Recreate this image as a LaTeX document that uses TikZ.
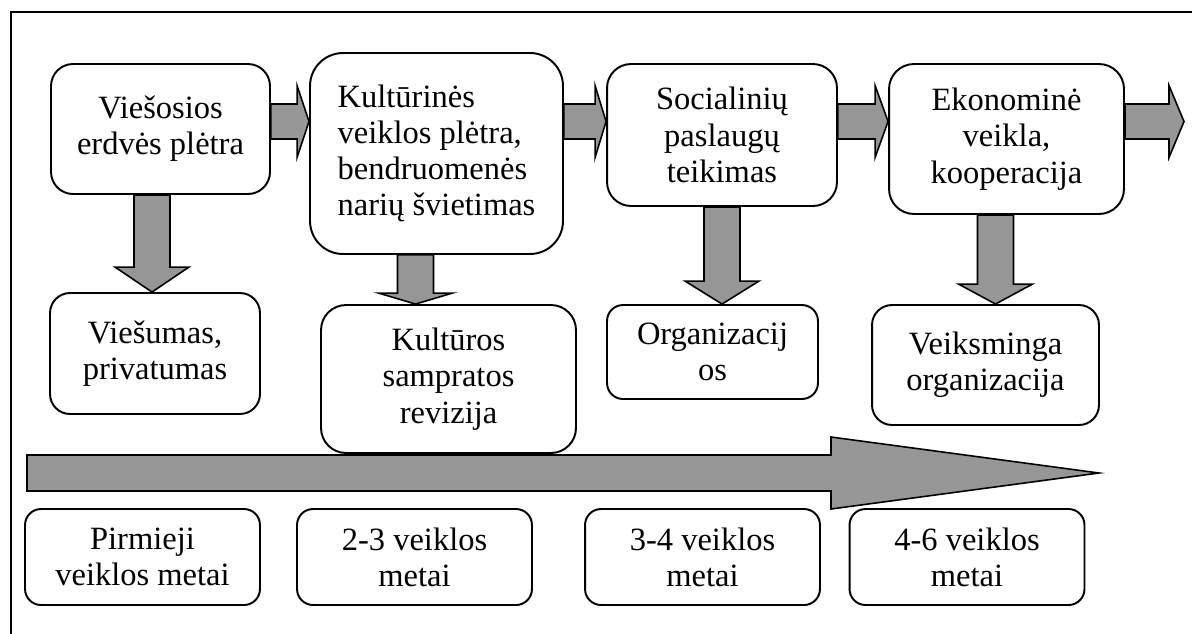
\documentclass[tikz,border=0pt]{standalone}
\usepackage{fontspec}
\setmainfont{Liberation Serif}
\usetikzlibrary{calc}
\definecolor{arrowfill}{RGB}{150,150,150}

% block arrows (sizes in px), optional arg = head length
\newcommand{\blockright}[3][13]{%
  \draw[blockarrow] ($(#2)+(0,-17.5)$) -- ($(#3)+(-#1,-17.5)$) -- ($(#3)+(-#1,-36)$) -- (#3)
    -- ($(#3)+(-#1,36)$) -- ($(#3)+(-#1,17.5)$) -- ($(#2)+(0,17.5)$) -- cycle;}
\newcommand{\blockdown}[3][22]{%
  \draw[blockarrow] ($(#2)+(-18,0)$) -- ($(#3)+(-18,-#1)$) -- ($(#3)+(-37,-#1)$) -- (#3)
    -- ($(#3)+(37,-#1)$) -- ($(#3)+(18,-#1)$) -- ($(#2)+(18,0)$) -- cycle;}

\begin{document}
\begin{tikzpicture}[x=0.02cm, y=-0.02cm, font=\fontsize{18.5}{20.6}\selectfont,
    stage/.style={draw, fill=white, line width=1.1pt, rounded corners=0.44cm, align=center, inner sep=0pt, minimum width=4.7cm},
    blockarrow/.style={draw, fill=arrowfill, line width=0.9pt}]
    \useasboundingbox (0,0) rectangle (1192,633);

    % Frame
    \draw[line width=1.6pt] (11,660) -- (11,12) -- (1220,12);

    % Activities
    \node[stage, minimum width=4.38cm, minimum height=2.6cm] (space) at (160.5,129) {Viešosios\\erdvės plėtra};
    \node[stage, minimum width=5.06cm, minimum height=4.02cm, rounded corners=0.66cm, align=left] (culture) at (436.5,153.5) {Kultūrinės\\veiklos plėtra,\\bendruomenės\\narių švietimas};
    \node[stage, minimum width=4.6cm, minimum height=2.84cm, rounded corners=0.48cm] (social) at (722,135) {Socialinių\\paslaugų\\teikimas};
    \node[stage, minimum width=4.7cm, minimum height=3cm, rounded corners=0.5cm] (economy) at (1006.5,139) {Ekonominė\\veikla,\\kooperacija};

    % Results
    \node[stage, minimum width=4.2cm, minimum height=2.42cm, rounded corners=0.4cm] (public) at (155,353.5) {Viešumas,\\privatumas};
    \node[stage, minimum width=5.1cm, minimum height=2.96cm, rounded corners=0.5cm] (concept) at (448.5,379) {Kultūros\\sampratos\\revizija};
    \node[stage, minimum width=4.22cm, minimum height=1.88cm, rounded corners=0.32cm] (org) at (712.5,352) {Organizacij\\os};
    \node[stage, minimum width=4.54cm, minimum height=2.4cm, rounded corners=0.4cm] (effective) at (985.5,365) {Veiksminga\\organizacija};

    % Years
    \node[stage, minimum height=1.92cm, rounded corners=0.32cm] (year1) at (142.5,557) {Pirmieji\\veiklos metai};
    \node[stage, minimum height=1.92cm, rounded corners=0.32cm] (year2) at (414.5,557) {2-3 veiklos\\metai};
    \node[stage, minimum height=1.92cm, rounded corners=0.32cm] (year3) at (702.5,557) {3-4 veiklos\\metai};
    \node[stage, minimum height=1.92cm, rounded corners=0.32cm] (year4) at (967,557) {4-6 veiklos\\metai};

    % Arrows along the top row
    \coordinate (row) at (0,121.5);
    \coordinate (rowend) at (1184,121.5);
    \blockright[12]{space.east |- row}{culture.west |- row}
    \blockright[11]{culture.east |- row}{social.west |- row}
    \blockright{social.east |- row}{economy.west |- row}
    \blockright[15]{economy.east |- row}{rowend}

    % Arrows down to the results
    \coordinate (c1) at (152,0);
    \coordinate (c2) at (415.5,0);
    \coordinate (c3) at (722,0);
    \coordinate (c4) at (995.5,0);
    \blockdown[25]{space.south -| c1}{public.north -| c1}
    \blockdown[11]{culture.south -| c2}{concept.north -| c2}
    \blockdown[23]{social.south -| c3}{org.north -| c3}
    \blockdown[20]{economy.south -| c4}{effective.north -| c4}

    % Time line
    \draw[blockarrow] (27,455) -- (831,455) -- (831,437) -- (1099,473) -- (831,509) -- (831,491) -- (27,491) -- cycle;

\end{tikzpicture}
\end{document}
